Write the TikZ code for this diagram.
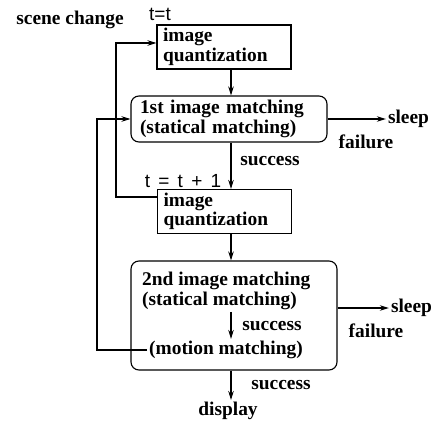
\documentclass[tikz,border=0pt]{standalone}
\usepackage{fontspec}
\setmainfont{Liberation Serif}
\newfontfamily\tsans{Liberation Sans}
\usetikzlibrary{positioning,calc,arrows.meta}
\tikzset{
  qbox/.style={rectangle,draw,line width=1.1pt,minimum width=134pt,minimum height=44pt,text width=122pt,align=left,inner xsep=6pt,inner ysep=0pt},
  mbox/.style={rectangle,rounded corners=8pt,draw,line width=1.1pt,align=left},
  lbl/.style={font=\fontsize{19.4}{19.5}\selectfont\bfseries,inner sep=2pt},
  tlbl/.style={font=\fontsize{19}{20}\selectfont\tsans,inner sep=1pt},
  flow/.style={-{Stealth[length=9pt,width=5.5pt]},line width=1.1pt},
}
\begin{document}
\begin{tikzpicture}[x=1pt,y=-1pt,every node/.style={lbl}]
  \useasboundingbox (0,0) rectangle (435,422);
  \coordinate (ax) at (231,0);
  \node[qbox] (Q1) at (224,47) {image\\quantization};
  \node[mbox,minimum width=196pt,minimum height=46pt,text width=178pt,inner xsep=9pt,inner ysep=0pt] (M1) at (229,119) {1st image matching\\(statical matching)};
  \node[qbox] (Q2) at (224.5,211.5) {image\\quantization};
  \node[mbox,minimum width=206pt,minimum height=109pt,inner sep=0pt] (M2) at (234,315.5) {};
  \node[anchor=west,align=left] (S2) at (140,291) {2nd image matching\\(statical matching)};
  \node[anchor=west] (MM) at (147,350) {(motion matching)};
  \node (SC) at (70,20) {scene change};
  \node[tlbl] (T0) at (160,14) {t=t};
  \node[tlbl] (T1) at (183,181) {t\hspace{3pt} = \hspace{3pt}t\hspace{3pt} + \hspace{3pt}1};
  \node (OK1) at (270,161) {success};
  \node (OK2) at (272,326) {success};
  \node (OK3) at (281,385) {success};
  \node (D) at (228,411) {display};
  \node (Z1) at (408.5,119) {sleep};
  \node (F1) at (366,142) {failure};
  \node (Z2) at (411.5,308) {sleep};
  \node (F2) at (376,331) {failure};
  \draw[flow] (Q1.south -| ax) -- (M1.north -| ax);
  \draw[flow] (M1.south -| ax) -- (Q2.north -| ax);
  \draw[flow] (Q2.south -| ax) -- (M2.north -| ax);
  \draw[flow] (S2.south -| ax) -- (MM.north -| ax);
  \draw[flow] (M2.south -| ax) -- (D.north -| ax);
  \draw[flow] (M1.east) -- (Z1.west);
  \draw[flow] (M2.east |- Z2) -- (Z2.west);
  \draw[flow] ([yshift=14.5pt]Q2.west) -- ++(-41,0) |- ([yshift=4pt]Q1.west);
  \draw[flow] (MM.west) -- ++(-50,0) |- (M1.west);
\end{tikzpicture}
\end{document}
